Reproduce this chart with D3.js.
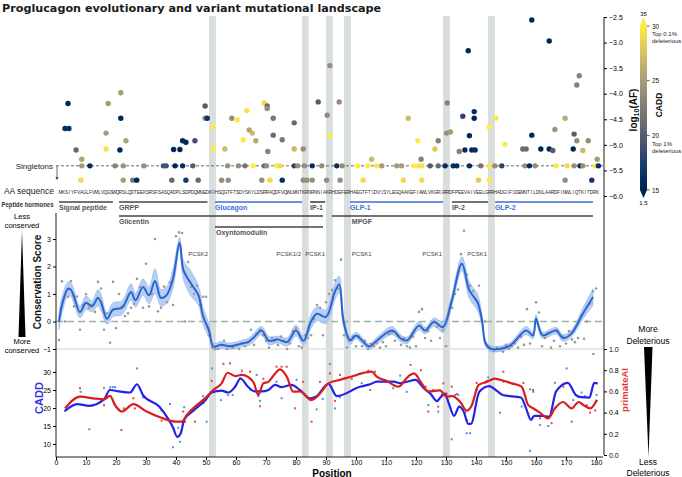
<!DOCTYPE html>
<html><head><meta charset="utf-8">
<script src="https://cdn.jsdelivr.net/npm/d3@7"></script>
<style>body{margin:0;background:#fff}svg{display:block;font-family:"Liberation Sans",Arial,sans-serif}</style>
</head><body><svg id="c" width="682" height="477"></svg>
<script>
// ---------------- DATA ----------------
const title = "Proglucagon evolutionary and variant mutational landscape";
const aaSeq = "MKSIYFVAGLFVMLVQGSWQRSLQDTEEKSRSFSASQADPLSDPDQMNEDKRHSQGTFTSDYSKYLDSRRAQDFVQWLMNTKRNRNNIAKRHDEFERHAEGTFTSDVSSYLEGQAAKEFIAWLVKGRGRRDFPEEVAIVEELGRRHADGSFSDEMNTILDNLAARDFINWLIQTKITDRK";
const aaHighlight = [52, 105, 108, 128, 150, 152];
const cleavageBands = [[51,53.3],[82,84.2],[90,92.3],[96,98.3],[129,131.3],[144,146.3]];
const pcskLabels = [["PCSK2",51,"end"],["PCSK1/2",82,"end"],["PCSK1",90,"end"],["PCSK1",98.6,"start"],["PCSK1",129,"end"],["PCSK1",144,"end"]];
const hormonesRow1 = [["Signal peptide",1,19,0],["GRPP",21,50.5,0],["Glucagon",53,82,1],["IP-1",84.7,89.7,0],["GLP-1",98,129,1],["IP-2",132,144,0],["GLP-2",146.3,179,1]];
const hormonesRow2 = [["Glicentin",21,89,21],["MPGF",92,179,98.6]];
const hormonesRow3 = [["Oxyntomodulin",53,89]];
const afTicks = [-2.5,-3,-3.5,-4,-4.5,-5,-5.5,-6];
const singletonLine = -5.41;
// variants: [position, log10(AF), CADD]
const variants = [
[4,-4.19,15.5],[17.4,-4.19,25],[21.6,-3.98,25],[21.6,-4.48,15.5],[3,-4.68,16],[4.3,-4.68,16],
[49.7,-4.24,20],[49.7,-4.48,24],[50.4,-4.48,16.5],[52.4,-4.65,30],[58.6,-4.48,24],[60.4,-4.51,30],
[63.6,-4.33,29.5],[64.4,-4.71,25.5],[69.4,-4.18,29],[70.4,-4.24,21],[70.4,-4.29,24],[72.4,-4.48,22],
[79.4,-4.57,21],[87.4,-4.16,20],[91.3,-3.45,24],[90.4,-4.42,24],[94.4,-4.16,24],[117.4,-4.48,27],
[130.4,-4.18,23],[137.4,-3.16,15.5],[135.6,-4.44,18],[139.4,-4.35,16],[139.4,-4.48,15.5],
[146.6,-4.48,30],[144.4,-4.65,30],[158.6,-2.56,15.5],[164.4,-2.97,15.5],[174.4,-3.65,23],
[173.6,-3.83,23],[169.7,-4.48,26],[166.3,-4.70,24.5],
[16.7,-4.77,25],[16.7,-5.08,29.5],[6.7,-5.10,21],[8.6,-5.28,25.5],[8.6,-5.41,25],[11.3,-5.41,16],
[19.7,-5.41,23],[22.4,-5.41,24.5],[23.3,-4.92,25.5],[21.3,-5.10,15.5],[29.3,-5.41,24],[35.8,-5.41,19],
[36.7,-5.41,19],[39.7,-5.41,15.5],[42.2,-5.41,16],[45.6,-5.41,20],[39.2,-5.09,15.5],[41.3,-5.09,15.5],
[42.2,-4.92,15.5],[43.3,-4.95,15.5],[46.3,-4.92,19],[52.4,-5.08,30],[57.2,-5.41,24],
[8.3,-5.69,29],[22.4,-5.69,25],[25.6,-5.69,22],[26.9,-5.69,15.5],[38.6,-5.69,21],[43.3,-5.69,17],
[47.4,-5.69,21],[55.2,-5.69,24],
[62.4,-4.90,30],[65.4,-4.77,27],[66.6,-4.92,26],[72.4,-4.81,21],[75.4,-4.90,22],[70.6,-5.13,23],
[79.4,-5.08,27],[82.4,-5.08,24],[91.3,-4.81,30],[56.3,-5.08,27],
[60.8,-5.41,24],[63,-5.41,22],[65.8,-5.41,30],[69.4,-5.41,21],[70.2,-5.41,24],[73.6,-5.41,30],
[74.7,-5.41,29],[79.4,-5.41,18],[80.6,-5.41,24],[82.8,-5.41,24],[85.4,-5.41,16],[88.6,-5.41,24],
[93.6,-5.41,16],[95.4,-5.41,24],[100.6,-5.41,30],[104,-5.41,30],[106.9,-5.41,30],[108.6,-5.41,25],
[113.6,-5.41,25],[115.2,-5.41,25],[119.3,-5.41,30],[121,-5.41,29.5],[122,-5.41,29.5],[124.7,-5.41,20],
[127.4,-5.41,21],[129.7,-5.41,16],
[105.2,-5.28,27],[121.7,-5.28,23],[120.6,-4.92,30],[126.3,-5.08,28],[127.4,-4.92,23],[130.2,-4.77,24],
[131.5,-4.75,25],
[57.4,-5.69,24],[68.6,-5.69,24],[71.3,-5.69,29],[75.4,-5.69,16],[82.4,-5.69,24],[83.6,-5.69,24],
[85.4,-5.69,24],[90.2,-5.69,24],[94.7,-5.69,24],[102.4,-5.69,29],[115.8,-5.69,29],[121.9,-5.69,29],
[137.8,-4.82,15.5],[136.3,-5.10,16],[138.6,-5.10,15.5],[139.7,-5.10,16],[134.4,-5.13,23],
[132.4,-5.41,16],[133.6,-5.41,16],[137.8,-5.41,16],[141.6,-5.41,22],[144.4,-5.41,30],[146.3,-5.41,24],
[148.6,-5.41,18],[156.3,-5.41,24],[157.8,-5.41,16],[159.7,-5.41,24],[166.7,-5.41,30],[170.4,-5.41,29],
[172.7,-5.41,24],[174.7,-5.41,16],[175.6,-5.41,24],[179.7,-5.41,30],[180.8,-5.41,16],
[149.7,-4.99,30],[158.6,-4.81,15.5],[155.6,-5.08,21],[156.7,-5.08,21],[161.6,-5.08,15.5],
[164.4,-5.08,15.5],[165.6,-5.11,20],[172.7,-4.79,20],[173.6,-4.92,24],[175.6,-5.11,27],
[172.4,-5.08,15.5],[177.4,-4.92,24],[180.4,-5.28,25],
[140.8,-5.69,28],[144.4,-5.69,30],[169.7,-5.69,24],[178.6,-5.69,17]
];
// conservation score per residue (1..180)
const consScores = [-0.67,1.46,0.0,0.9,1.47,0.55,0.91,-0.3,0.6,0.99,0.5,0.6,0.35,1.44,1.2,-0.3,0.3,-0.77,1.44,-0.24,
1.0,0.55,0.2,0.3,0.5,0.65,1.55,1.25,0.5,2.1,0.55,1.0,3.0,0.37,0.5,1.27,0.7,1.42,0.6,3.1,
3.24,3.22,0.0,2.16,1.26,1.0,1.3,0.6,0.9,0.9,-0.5,-0.95,-1.0,-1.0,-0.85,-0.7,-1.0,-0.9,-0.95,-0.85,
-1.0,-0.8,-0.9,-0.75,-0.3,-0.85,-0.45,-0.3,-0.5,-0.7,-0.95,-0.6,-0.7,-0.85,-0.55,-0.7,-1.0,-0.8,-0.35,-0.25,
-0.9,-0.95,-0.5,-0.6,-0.5,0.1,0.6,0.5,-0.5,0.7,1.0,1.15,1.5,1.2,2.25,-0.5,-0.95,-0.65,-0.55,-0.9,
-0.55,-0.9,-0.7,-1.0,-0.8,-0.9,-0.8,-0.95,-0.75,-0.9,-0.45,-0.4,-0.7,-0.5,-0.85,-0.6,-0.9,-0.95,-0.55,-0.9,
0.35,0.45,-0.6,-0.35,-0.7,0.0,-0.2,-0.6,-0.3,-0.9,0.3,0.5,1.0,1.16,2.45,3.3,1.7,1.3,1.1,0.8,
1.3,0.05,0.0,-0.9,-1.0,-1.05,-0.95,-1.0,-1.1,-0.85,-1.0,-0.9,-0.8,-0.95,-0.55,-0.85,0.45,-0.8,-0.5,0.7,
0.33,-0.9,-0.6,-0.4,-0.95,-0.7,-0.3,-0.9,-0.55,-0.8,-0.35,-0.65,-0.75,-0.6,0.2,-0.63,0.0,0.65,1.1,1.2];
// smoothed conservation: [position, mean, half-width of band]
const consSmooth = [[1,0.0,0.3],[2,0.6,0.3],[4,1.19,0.25],[5,1.15,0.25],[6,0.9,0.25],[8,0.34,0.2],[10,0.68,0.25],
[12,0.55,0.2],[14,0.86,0.3],[15,0.7,0.3],[17,0.1,0.2],[19,0.43,0.25],[22,0.5,0.25],[25,1.07,0.3],[26.5,0.77,0.25],
[29,1.25,0.3],[31,0.95,0.3],[33,1.47,0.45],[35,0.86,0.3],[37,0.98,0.3],[39,1.56,0.35],[41.2,2.86,0.2],[42.5,1.86,0.35],
[45,1.38,0.45],[47.5,0.95,0.35],[49,0.2,0.3],[51,-0.33,0.25],[52.5,-0.91,0.12],[55,-0.85,0.12],[58,-0.9,0.12],
[62,-0.8,0.12],[64,-0.75,0.13],[66,-0.57,0.15],[68.5,-0.33,0.15],[71,-0.7,0.15],[74,-0.65,0.12],[77,-0.75,0.15],
[80,-0.33,0.2],[82.5,-0.7,0.15],[85,0.0,0.25],[87,0.28,0.25],[90,0.17,0.25],[93,1.1,0.3],[94.4,1.35,0.3],
[95.8,0.04,0.2],[98,-0.69,0.15],[100,-0.51,0.12],[102,-0.69,0.12],[104.4,-0.91,0.1],[107,-0.69,0.12],[112,-0.33,0.15],
[115,-0.62,0.12],[117,-0.69,0.12],[121,-0.15,0.15],[123,-0.33,0.12],[126,-0.02,0.15],[129,-0.2,0.2],[131.7,0.66,0.2],
[135.3,2.1,0.25],[137.8,1.13,0.3],[140.5,0.7,0.3],[142,0.04,0.2],[143.2,-0.8,0.1],[145,-0.99,0.1],[151,-0.9,0.1],
[156.7,-0.33,0.15],[159,-0.5,0.12],[160,0.1,0.15],[162.2,-0.5,0.12],[166.7,-0.33,0.12],[169,-0.6,0.12],
[171.7,-0.45,0.12],[175.6,0.28,0.2],[179,0.89,0.3]];
// CADD per variant [position, CADD] and smoothed line
const caddPoints = [[3,19.2],[8.2,24.5],[11.1,14.1],[16,25.6],[18,25.7],[18.9,25.8],[19.7,25.8],[27,31],[29,23],
[35.2,19.3],[38,21.1],[39,9.1],[41.3,10.6],[40.7,14.5],[42.7,20.2],[49,23.3],[50.2,16.2],[52,31],[55,22.2],
[57.4,23.6],[58.9,23.6],[61.3,28.2],[64.7,25.2],[66.9,29.2],[67.4,23.3],[68,22],[73.5,27.3],[75.2,22.7],
[80.2,27.8],[84.7,22.2],[86.9,19.6],[88.9,22.5],[91.3,32.2],[93,19.9],[94.7,23],[101.9,26.9],[104.7,25],
[112.4,25.5],[114.7,29],[116.9,24.5],[124.1,20.8],[127.4,19],[128.6,23.6],[130,23.6],[131.9,11.3],[133,23.6],
[134.1,23.6],[136.9,13],[138,13],[140.2,25],[144.1,28.5],[148,18.7],[149.1,27.3],[155.2,20.4],[158,25.2],
[158,8.1],[159.1,24.5],[161.3,15.3],[164.1,15],[166.3,27],[170.2,31],[172.4,22.2],[175.2,24.3],[176.3,23.3],
[179.1,35],[180.2,23.6]];
const caddSmooth = [[3,19.2],[7,21.1],[11,20.6],[16,22.4],[18,25],[21,24.6],[24.7,24.3],[27,26.6],[29,23.6],
[34.4,20.4],[37.3,17.1],[39,14.6],[40.4,12.0],[41.6,13],[42.7,16.7],[46,19.4],[49.6,22],[51.9,24.3],[55.2,24.8],
[57.4,24.3],[59.7,25.9],[61.5,28.2],[64,25.9],[66.3,24.6],[68.5,24.6],[70.8,25],[73,26.4],[75.2,25.8],[78.5,26.4],
[81.3,25],[84.7,22.7],[86.9,23.3],[90.8,26.7],[93.6,23.3],[101.3,25.9],[104.7,26.6],[107,27.3],[112.6,27.3],
[114.8,26.9],[117,27.3],[119.8,27.8],[122.6,25.5],[124.8,24],[127,21.9],[128.2,23],[129.6,24],[131,21.1],
[132.7,17.8],[134.4,20.4],[135.9,19],[137.4,15.6],[138.3,15.6],[141.1,24.5],[144.4,26.1],[147.2,24.6],
[148.9,23.6],[155,22.9],[156.7,19.9],[158.3,16.7],[159.4,17.8],[161.7,17.8],[164.4,17.6],[166.7,24.6],
[170.6,27],[173.3,23.6],[175,23],[177.8,22.9],[179.4,27],[180.6,26.8]];
// primateAI per variant [position, score] and smoothed line
const paiPoints = [[8,0.63],[16,0.47],[21.8,0.236],[22.6,0.44],[25.8,0.535],[26.3,0.44],[35.2,0.324],[42.4,0.41],
[43,0.314],[46.3,0.314],[49.1,0.49],[51.9,0.70],[55.8,0.86],[58,0.865],[59.7,0.645],[62,0.795],[64.7,0.786],
[68,0.46],[69.1,0.72],[73.5,0.833],[75.2,0.833],[76.9,0.833],[79.7,0.44],[82.4,0.69],[85.2,0.314],[88,0.69],
[91.3,0.77],[93,0.51],[94.7,0.755],[98.6,0.72],[104.1,0.795],[106.3,0.786],[118.2,0.85],[121.6,0.80],
[123.2,0.645],[124.1,0.41],[125.8,0.613],[127.4,0.456],[129.1,0.676],[130.2,0.58],[131.9,0.645],[133.6,0.575],
[136.3,0.4],[136.9,0.33],[140.2,0.68],[143.6,0.70],[149.1,0.786],[155.8,0.68],[159,0.613],[161.3,0.346],
[163.6,0.356],[165.2,0.3],[169.1,0.645],[171.9,0.314],[176.9,0.47],[178,0.4],[179.7,0.42],[180.2,0.51]];
const paiSmooth = [[3,0.44],[8,0.55],[12.4,0.535],[16,0.525],[18,0.557],[19.7,0.47],[21.9,0.41],[25.8,0.48],
[30.2,0.41],[34.7,0.356],[40.2,0.314],[41.9,0.314],[43.6,0.377],[46.9,0.47],[49.1,0.52],[52.4,0.613],[55.2,0.676],
[57.2,0.776],[59.7,0.745],[61.9,0.755],[64.1,0.735],[66,0.676],[67.4,0.566],[69.1,0.676],[70.8,0.69],[72.4,0.745],
[74.7,0.808],[76.9,0.74],[79.1,0.597],[81.3,0.6],[85.2,0.52],[88,0.58],[90.8,0.676],[94.5,0.708],[99.1,0.745],
[101.9,0.77],[105.2,0.786],[106.9,0.74],[110.2,0.70],[114.1,0.645],[117.4,0.74],[119.3,0.77],[121.9,0.676],
[124.1,0.6],[126.3,0.605],[128,0.61],[130.2,0.55],[131.9,0.556],[134.7,0.503],[136.9,0.418],[138.6,0.47],
[140.8,0.66],[143.6,0.69],[146.3,0.72],[148,0.71],[151.9,0.676],[155.2,0.645],[157.4,0.47],[159.1,0.44],
[161.3,0.4],[164,0.346],[166.3,0.44],[169,0.5],[171.9,0.44],[174.2,0.5],[175.9,0.47],[178.1,0.44],[180.3,0.52]];
const xTicks = [0,10,20,30,40,50,60,70,80,90,100,110,120,130,140,150,160,170,180];
const consTicks = [-1,0,1,2,3];
const caddTicks = [10,15,20,25,30];
const paiTicks = [0,0.2,0.4,0.6,0.8,1.0];
const cbarTicks = [15,20,25,30];

// ---------------- SCALES ----------------
const svg = d3.select("#c");
const x = d3.scaleLinear().domain([0,182.33]).range([56,603]);
const yAF = d3.scaleLinear().domain([-2.5,-6]).range([17,196]);
const yCons = d3.scaleLinear().domain([3,-1]).range([239,349]);
const yCADD = d3.scaleLinear().domain([30,10]).range([372,444]);
const yPAI = d3.scaleLinear().domain([1,0]).range([349,455]);
const cmap = d3.scaleSequential(d3.interpolateCividis).domain([15,30]).clamp(true);
const yCbar = d3.scaleLinear().domain([15,30]).range([190,26]);
const BASE = "Liberation Sans";

// background cleavage bands
svg.append("g").selectAll("rect").data(cleavageBands).join("rect")
  .attr("x", d=>x(d[0])).attr("width", d=>x(d[1])-x(d[0]))
  .attr("y",16).attr("height",457-16).attr("fill","#d8dedc");

// title
svg.append("text").attr("x",2).attr("y",12).attr("font-family","DejaVu Sans").attr("font-weight","bold")
  .attr("font-size",11.2).attr("fill","#1a1a1a").text(title);

// ---------- top panel ----------
svg.append("line").attr("x1",56).attr("x2",603).attr("y1",yAF(singletonLine)).attr("y2",yAF(singletonLine))
  .attr("stroke","#444").attr("stroke-width",0.8).attr("stroke-dasharray","3,2");
svg.append("text").attr("x",53).attr("y",yAF(singletonLine)+3).attr("text-anchor","end")
  .attr("font-size",8).attr("fill","#222").text("Singletons");
svg.append("defs").append("marker").attr("id","ah").attr("viewBox","0 0 10 10").attr("refX",5).attr("refY",5)
  .attr("markerWidth",4).attr("markerHeight",4).attr("orient","auto")
  .append("path").attr("d","M0,0L10,5L0,10Z").attr("fill","#444");
svg.append("line").attr("x1",57).attr("x2",57).attr("y1",yAF(singletonLine)).attr("y2",yAF(-5.66))
  .attr("stroke","#444").attr("stroke-width",0.8).attr("marker-end","url(#ah)");

svg.append("g").selectAll("circle").data(variants).join("circle")
  .attr("cx",d=>x(d[0])).attr("cy",d=>yAF(d[1])).attr("r",2.7).attr("fill",d=>cmap(d[2]));

// AF axis
const afAx = svg.append("g").attr("transform","translate(604,0)")
  .call(d3.axisRight(yAF).tickValues(afTicks).tickFormat(d3.format(".1f")).tickSize(3));
afAx.select(".domain").remove();
afAx.selectAll("text").attr("font-size",7).attr("font-family",BASE).attr("x",5);
svg.append("line").attr("x1",604).attr("x2",604).attr("y1",17).attr("y2",349).attr("stroke","#000").attr("stroke-width",0.9);
svg.append("text").attr("transform","translate(637,110) rotate(-90)").attr("text-anchor","middle")
  .attr("font-size",10).attr("font-weight","bold").attr("fill","#111")
  .html('log<tspan font-size="7" dy="2">10</tspan><tspan dy="-2">(AF)</tspan>');

// colorbar
const grad = svg.select("defs").append("linearGradient").attr("id","cg").attr("x1",0).attr("x2",0).attr("y1",1).attr("y2",0);
d3.range(0,1.001,0.1).forEach(t=>grad.append("stop").attr("offset",t).attr("stop-color",d3.interpolateCividis(t)));
svg.append("rect").attr("x",640).attr("width",7).attr("y",yCbar(30)).attr("height",yCbar(15)-yCbar(30)).attr("fill","url(#cg)");
svg.append("path").attr("d",`M640,${yCbar(30)}L647,${yCbar(30)}L643.5,17Z`).attr("fill",cmap(30));
svg.append("path").attr("d",`M640,${yCbar(15)}L647,${yCbar(15)}L643.5,198Z`).attr("fill",cmap(15));
svg.append("g").selectAll("line").data(cbarTicks).join("line").attr("x1",647).attr("x2",649.5)
  .attr("y1",d=>yCbar(d)).attr("y2",d=>yCbar(d)).attr("stroke","#000").attr("stroke-width",0.7);
svg.append("g").selectAll("text").data(cbarTicks).join("text").attr("x",652).attr("y",d=>yCbar(d)+2.5)
  .attr("font-size",6.5).attr("fill","#111").text(d=>d);
[["Top 0.1%",36],["deleterious",43],["Top 1%",146],["deleterious",153]].forEach(([t,y])=>
  svg.append("text").attr("x",652).attr("y",y).attr("font-size",6).attr("fill","#222").text(t));
svg.append("text").attr("x",643.5).attr("y",16).attr("text-anchor","middle").attr("font-size",6).text("35");
svg.append("text").attr("x",643.5).attr("y",205).attr("text-anchor","middle").attr("font-size",6).text("1.5");
svg.append("text").attr("transform","translate(662,105) rotate(-90)").attr("text-anchor","middle")
  .attr("font-size",8.5).attr("font-weight","bold").attr("fill","#111").text("CADD");

// AA sequence
svg.append("text").attr("x",54).attr("y",194).attr("text-anchor","end").attr("font-size",8.5).attr("fill","#222").text("AA sequence");
svg.append("g").selectAll("text").data(aaSeq.split("").map((c,i)=>[i+1,c])).join("text")
  .attr("x",d=>x(d[0])+1.5).attr("y",193.5).attr("text-anchor","middle").attr("font-size",4.6)
  .attr("fill",d=>aaHighlight.includes(d[0])?"#c35ad6":"#222").text(d=>d[1]);

// peptide hormones
svg.append("text").attr("x",1.5).attr("y",207).attr("font-size",6.4).attr("font-weight","bold").attr("fill","#333")
  .attr("textLength",52).attr("lengthAdjust","spacingAndGlyphs").text("Peptide hormones");
const hg = svg.append("g");
hormonesRow1.forEach(([n,s,e,b])=>{
  const col = b ? "#3a6fd8" : "#444";
  hg.append("line").attr("x1",x(s)).attr("x2",x(e)).attr("y1",202).attr("y2",202).attr("stroke",col).attr("stroke-width",1.6);
  hg.append("text").attr("x",x(s)).attr("y",210).attr("font-size",7).attr("font-weight","bold").attr("fill",b?"#3a6fd8":"#555").text(n);
});
hormonesRow2.forEach(([n,s,e,lp])=>{
  hg.append("line").attr("x1",x(s)).attr("x2",x(e)).attr("y1",216).attr("y2",216).attr("stroke","#444").attr("stroke-width",1.6);
  hg.append("text").attr("x",x(lp)).attr("y",224).attr("font-size",7).attr("font-weight","bold").attr("fill","#555").text(n);
});
hormonesRow3.forEach(([n,s,e])=>{
  hg.append("line").attr("x1",x(s)).attr("x2",x(e)).attr("y1",227).attr("y2",227).attr("stroke","#444").attr("stroke-width",1.6);
  hg.append("text").attr("x",x(s)+1).attr("y",235).attr("font-size",7).attr("font-weight","bold").attr("fill","#555").text(n);
});

// ---------- conservation panel ----------
svg.append("line").attr("x1",56).attr("x2",603).attr("y1",yCons(-1)).attr("y2",yCons(-1)).attr("stroke","#dde4e1").attr("stroke-width",1.5);
svg.append("line").attr("x1",56).attr("x2",603).attr("y1",yCons(0)).attr("y2",yCons(0)).attr("stroke","#9fb0a4").attr("stroke-width",1.6).attr("stroke-dasharray","7,4");
svg.append("g").selectAll("text").data(pcskLabels).join("text")
  .attr("x",d=>x(d[1])-(d[2]==="end"?1:0)).attr("y",256).attr("text-anchor",d=>d[2])
  .attr("font-size",6).attr("fill","#444").text(d=>d[0]);
const cur = d3.curveCatmullRom.alpha(0.5);
svg.append("path").datum(consSmooth).attr("d",d3.area().x(d=>x(d[0])).y0(d=>yCons(d[1]-d[2])).y1(d=>yCons(d[1]+d[2])).curve(cur))
  .attr("fill","#a9c8f0").attr("fill-opacity",0.85).attr("stroke","#7aa6e6").attr("stroke-width",0.5);
svg.append("g").selectAll("circle").data(consScores.map((v,i)=>[i+1,v])).join("circle")
  .attr("cx",d=>x(d[0])).attr("cy",d=>yCons(d[1])).attr("r",1.3).attr("fill","#9a9a9a");
svg.append("path").datum(consSmooth).attr("d",d3.line().x(d=>x(d[0])).y(d=>yCons(d[1])).curve(cur))
  .attr("fill","none").attr("stroke","#2d62d2").attr("stroke-width",2);

const consAx = svg.append("g").attr("transform","translate(56,0)")
  .call(d3.axisLeft(yCons).tickValues(consTicks).tickFormat(d=>d<0?"−"+Math.abs(d):d).tickSize(3));
consAx.select(".domain").remove();
consAx.selectAll("text").attr("font-size",7).attr("font-family",BASE).attr("x",-5);
svg.append("line").attr("x1",56).attr("x2",56).attr("y1",213).attr("y2",457).attr("stroke","#000").attr("stroke-width",0.9);
svg.append("text").attr("transform","translate(41,282) rotate(-90)").attr("text-anchor","middle")
  .attr("font-size",10).attr("font-weight","bold").attr("fill","#111").text("Conservation Score");
svg.append("text").attr("x",22).attr("y",219).attr("text-anchor","middle").attr("font-size",7.5).text("Less");
svg.append("text").attr("x",22).attr("y",228).attr("text-anchor","middle").attr("font-size",7.5).text("conserved");
svg.append("path").attr("d","M22,231L25.5,337L18.5,337Z").attr("fill","#000");
svg.append("text").attr("x",22).attr("y",344).attr("text-anchor","middle").attr("font-size",7.5).text("More");
svg.append("text").attr("x",22).attr("y",353).attr("text-anchor","middle").attr("font-size",7.5).text("conserved");

// ---------- CADD / primateAI panel ----------
svg.append("g").selectAll("rect").data(caddPoints).join("rect")
  .attr("x",d=>x(d[0])-1).attr("y",d=>yCADD(d[1])-1).attr("width",2).attr("height",2).attr("fill","#5a8de6");
svg.append("g").selectAll("rect").data(paiPoints).join("rect")
  .attr("x",d=>x(d[0])-1).attr("y",d=>yPAI(d[1])-1).attr("width",2).attr("height",2).attr("fill","#e2474a");
const lc = d3.curveMonotoneX;
svg.append("path").datum(caddSmooth).attr("d",d3.line().x(d=>x(d[0])).y(d=>yCADD(d[1])).curve(lc))
  .attr("fill","none").attr("stroke","#2323e6").attr("stroke-width",2.2);
svg.append("path").datum(paiSmooth).attr("d",d3.line().x(d=>x(d[0])).y(d=>yPAI(d[1])).curve(lc))
  .attr("fill","none").attr("stroke","#d81e1e").attr("stroke-width",2.2);

const caddAx = svg.append("g").attr("transform","translate(56,0)")
  .call(d3.axisLeft(yCADD).tickValues(caddTicks).tickSize(3));
caddAx.select(".domain").remove();
caddAx.selectAll("text").attr("font-size",7).attr("font-family",BASE).attr("x",-5);
svg.append("text").attr("transform","translate(43,398) rotate(-90)").attr("text-anchor","middle")
  .attr("font-size",11).attr("font-weight","bold").attr("fill","#3535ee").text("CADD");

const paiAx = svg.append("g").attr("transform","translate(604,0)")
  .call(d3.axisRight(yPAI).tickValues(paiTicks).tickFormat(d3.format(".1f")).tickSize(3));
paiAx.select(".domain").attr("stroke-width",0.9).attr("d","M0,349V455");
paiAx.selectAll("text").attr("font-size",7).attr("font-family",BASE).attr("x",5);
svg.append("text").attr("transform","translate(628,390) rotate(-90)").attr("text-anchor","middle")
  .attr("font-size",9.5).attr("font-weight","bold").attr("fill","#e03a3a").text("primateAI");

svg.append("text").attr("x",648).attr("y",332).attr("text-anchor","middle").attr("font-size",8.5).text("More");
svg.append("text").attr("x",648).attr("y",344).attr("text-anchor","middle").attr("font-size",8.5).text("Deleterious");
svg.append("path").attr("d","M644,347L652.5,347L648.5,457Z").attr("fill","#000");
svg.append("text").attr("x",648).attr("y",465).attr("text-anchor","middle").attr("font-size",8.5).text("Less");
svg.append("text").attr("x",648).attr("y",476).attr("text-anchor","middle").attr("font-size",8.5).text("Deleterious");

// x axis
const xAx = svg.append("g").attr("transform","translate(0,457)")
  .call(d3.axisBottom(x).tickValues(xTicks).tickSize(3));
xAx.select(".domain").attr("stroke-width",0.9).attr("d","M56,0H603");
xAx.selectAll("text").attr("font-size",7).attr("font-family",BASE).attr("y",3.5);
svg.append("text").attr("x",332).attr("y",476.5).attr("text-anchor","middle").attr("font-size",10).attr("font-weight","bold").text("Position");
</script></body></html>
